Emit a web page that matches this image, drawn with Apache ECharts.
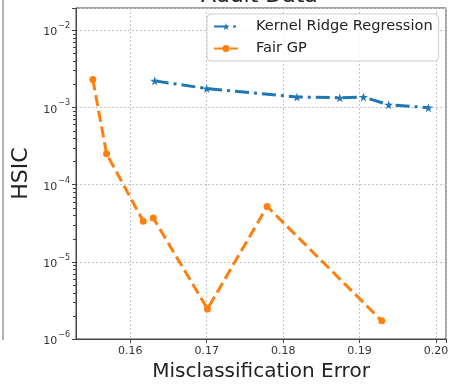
<!DOCTYPE html>
<html>
<head>
<meta charset="utf-8">
<script src="https://cdn.jsdelivr.net/npm/echarts@6/dist/echarts.min.js"></script>
<style>
  html, body { margin: 0; padding: 0; background: #fff; }
  #chart { width: 450px; height: 384px; }
</style>
</head>
<body>
<div id="chart"></div>
<script>
// Misclassification error vs. HSIC dependence on the Adult dataset
const krrError = [0.1632, 0.1700, 0.1818, 0.1874, 0.1905, 0.1938, 0.1990];
const krrHsic  = [2.2e-3, 1.75e-3, 1.36e-3, 1.33e-3, 1.36e-3, 1.08e-3, 9.9e-4];

const gpError = [0.1551, 0.1569, 0.1617, 0.1630, 0.1701, 0.1779, 0.1929];
const gpHsic  = [2.3e-3, 2.5e-4, 3.35e-5, 3.7e-5, 2.45e-6, 5.2e-5, 1.72e-6];

const xTicks = [0.16, 0.17, 0.18, 0.19, 0.20];
const yExponents = [-6, -5, -4, -3, -2];

const seriesNames = ['Kernel Ridge Regression', 'Fair GP'];

const FONT = 'DejaVu Sans';
const STAR = 'path://M50,0 L61,35 L98,35 L68,57 L79,91 L50,70 L21,91 L32,57 L2,35 L39,35 Z';

const xMin = 0.1529, xMax = 0.2013;
const yMin = 1e-6, yMax = Math.pow(10, -1.714);

const chart = echarts.init(document.getElementById('chart'), null, { renderer: 'canvas' });

function pairs(xs, ys) { return xs.map((x, i) => [x, ys[i]]); }

const supMinus = '\u2212';

const option = {
  animation: false,
  backgroundColor: '#ffffff',
  grid: {
    left: 76, right: 4, top: 8, bottom: 45,
    outerBoundsMode: 'none',
    containLabel: false,
    show: true, borderColor: '#444', borderWidth: 1
  },
  xAxis: {
    type: 'value',
    min: xMin, max: xMax,
    splitNumber: 5,
    name: 'Misclassification Error',
    nameLocation: 'middle',
    nameGap: 23,
    nameTextStyle: { fontFamily: FONT, fontSize: 20, color: '#222' },
    axisLine: { show: true, onZero: false, lineStyle: { color: '#444', width: 1 } },
    axisTick: { show: true, length: 4, lineStyle: { color: '#444' } },
    axisLabel: {
      fontFamily: FONT, fontSize: 11, color: '#333', margin: 7,
      showMinLabel: false,
      formatter: function (v) {
        for (const t of xTicks) { if (Math.abs(v - t) < 1e-7) return t.toFixed(2); }
        return '';
      }
    },
    splitLine: { show: true, lineStyle: { color: '#c4c4c4', type: [2, 2], width: 1 } }
  },
  yAxis: {
    type: 'log',
    logBase: 10,
    min: yMin, max: yMax,
    name: 'HSIC',
    nameLocation: 'middle',
    nameGap: 43,
    nameTextStyle: { fontFamily: FONT, fontSize: 22, color: '#222' },
    axisLine: { show: true, lineStyle: { color: '#444', width: 1 } },
    axisTick: { show: true, length: 4, lineStyle: { color: '#444' } },
    axisLabel: {
      fontFamily: FONT, color: '#333', margin: 6,
      formatter: function (v) {
        const e = Math.log10(v);
        const r = Math.round(e);
        if (Math.abs(e - r) > 1e-6 || yExponents.indexOf(r) < 0) return '';
        return '{b|10}{s|' + supMinus + Math.abs(r) + '}';
      },
      rich: {
        b: { fontFamily: FONT, fontSize: 11, color: '#333', lineHeight: 16, verticalAlign: 'bottom' },
        s: { fontFamily: FONT, fontSize: 8, color: '#333', lineHeight: 16, verticalAlign: 'top', padding: [0, 0, 5, 1] }
      }
    },
    splitLine: { show: true, lineStyle: { color: '#c4c4c4', type: [2, 2], width: 1 } }
  },
  legend: {
    orient: 'vertical',
    left: 207, top: 14,
    padding: [5, 6, 5, 6],
    itemWidth: 24, itemHeight: 9, itemGap: 7,
    backgroundColor: 'rgba(255,255,255,0.85)',
    borderColor: '#cccccc', borderWidth: 1, borderRadius: 4,
    textStyle: { fontFamily: FONT, fontSize: 14.6, color: '#222', padding: [0, 0, 0, 13] },
    data: seriesNames
  },
  graphic: [
    {
      type: 'text', left: 261 - 60, top: -15,
      style: { text: 'Adult Data', font: '22px "DejaVu Sans"', fill: '#222' }
    },
    {
      type: 'line',
      shape: { x1: 3, y1: 0, x2: 3, y2: 340 },
      style: { stroke: '#666', lineWidth: 1 }
    }
  ],
  series: [
    {
      name: seriesNames[0],
      type: 'line',
      data: pairs(krrError, krrHsic),
      symbol: STAR, symbolSize: 9,
      color: '#1f77b4',
      itemStyle: { color: '#1f77b4' },
      lineStyle: { width: 3, type: [14, 5, 3, 5], color: '#1f77b4' },
      z: 3
    },
    {
      name: seriesNames[1],
      type: 'line',
      data: pairs(gpError, gpHsic),
      symbol: 'circle', symbolSize: 7,
      color: '#ff7f0e',
      itemStyle: { color: '#ff7f0e' },
      lineStyle: { width: 3, type: [11, 5], color: '#ff7f0e' },
      z: 3
    }
  ]
};

chart.setOption(option);

// Minor log ticks (2..9 × 10^k) on the left axis
const leftX = chart.convertToPixel({ xAxisIndex: 0 }, xMin);
const minor = [];
for (let k = -6; k <= -2; k++) {
  for (let m = 2; m <= 9; m++) {
    const v = m * Math.pow(10, k);
    if (v > yMax) continue;
    const py = Math.round(chart.convertToPixel({ yAxisIndex: 0 }, v)) + 0.5;
    minor.push({
      type: 'line',
      shape: { x1: leftX - 3, y1: py, x2: leftX, y2: py },
      style: { stroke: '#444', lineWidth: 1 },
      z: 10,
      silent: true
    });
  }
}
chart.setOption({ graphic: option.graphic.concat(minor) });
</script>
</body>
</html>
